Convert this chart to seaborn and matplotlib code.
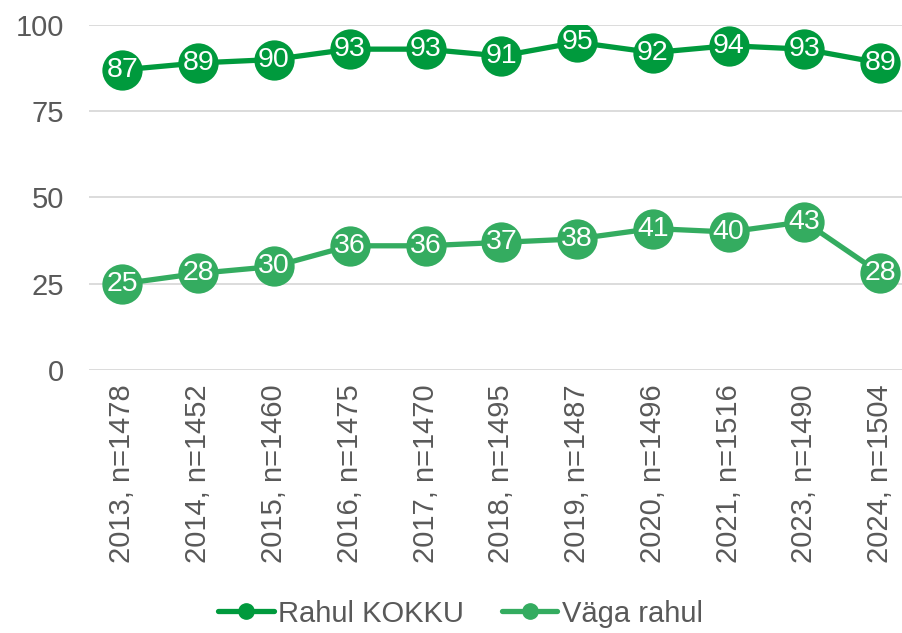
import pandas as pd
import matplotlib
matplotlib.use("Agg")
import matplotlib.pyplot as plt
import seaborn as sns

# Chart data
years = ["2013, n=1478", "2014, n=1452", "2015, n=1460", "2016, n=1475",
         "2017, n=1470", "2018, n=1495", "2019, n=1487", "2020, n=1496",
         "2021, n=1516", "2023, n=1490", "2024, n=1504"]
rahul_kokku = [87, 89, 90, 93, 93, 91, 95, 92, 94, 93, 89]
vaga_rahul = [25, 28, 30, 36, 36, 37, 38, 41, 40, 43, 28]
series_names = ["Rahul KOKKU", "Väga rahul"]
colors = ["#009A3D", "#34AC60"]

# Long-form table for seaborn
df = pd.concat([
    pd.DataFrame({"year": years, "value": rahul_kokku, "series": series_names[0]}),
    pd.DataFrame({"year": years, "value": vaga_rahul, "series": series_names[1]}),
])
df["pos"] = df["year"].map({y: i for i, y in enumerate(years)})

sns.set_style("white")
plt.rcParams["font.family"] = ["Liberation Sans", "DejaVu Sans"]
gray = "#595959"

fig = plt.figure(figsize=(9.03, 6.33), dpi=100)
ax = fig.add_axes([0.099, 0.4155, 0.901, 0.545])

sns.lineplot(data=df, x="pos", y="value", hue="series", palette=colors,
             marker="o", markersize=29, linewidth=3.8, markeredgewidth=0,
             ax=ax, legend=False, zorder=3)

# Value labels inside markers
for vals in (rahul_kokku, vaga_rahul):
    for i, v in enumerate(vals):
        ax.text(i, v, str(v), color="white", ha="center", va="center",
                fontsize=20.5, zorder=5)

ax.set_ylim(0, 100)
ax.set_yticks([0, 25, 50, 75, 100])
ax.set_xlim(-0.435, 10.3)
ax.set_xticks(range(len(years)))
ax.set_xticklabels(years, rotation=90)
ax.tick_params(axis="both", colors=gray, labelsize=21, length=0)
ax.tick_params(axis="x", pad=10)
ax.tick_params(axis="y", pad=18)
ax.yaxis.grid(True, color="#D9D9D9", linewidth=1.3)
ax.xaxis.grid(False)
for s in ax.spines.values():
    s.set_visible(False)
ax.set_xlabel("")
ax.set_ylabel("")

# Legend
handles = [plt.Line2D([], [], color=c, linewidth=3.8, marker="o", markersize=11)
           for c in colors]
fig.legend(handles, series_names, loc="lower center", ncol=2, frameon=False,
           fontsize=21, labelcolor=gray, bbox_to_anchor=(0.51, -0.033),
           handlelength=1.9, handletextpad=0.15, columnspacing=1.3)

fig.savefig("out.png", dpi=100)
